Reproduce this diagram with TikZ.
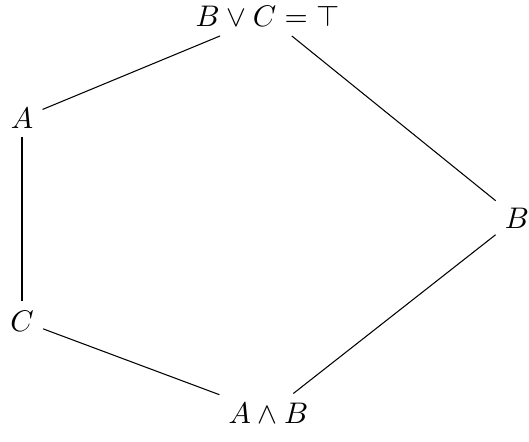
\documentclass[tikz,border=0pt]{standalone}
\usepackage{fix-cm}
\usepackage{xcolor}
\usepackage{tikz}
\usepackage{amsmath}

\begin{document}
\begin{tikzpicture}[x=1cm,y=1cm,every node/.style={font=\fontsize{11.3}{13.6}\selectfont}]
  \useasboundingbox (0,0) rectangle (7.046,5.887);
  \node (top) at (3.563,5.670) {$B \vee C = \top$};
  \node (a) at (0.293,4.316) {$A$};
  \node (c) at (0.293,1.612) {$C$};
  \node (bot) at (3.576,0.386) {$A \wedge B$};
  \node (b) at (6.886,2.984) {$B$};
  \draw (top) -- (a);
  \draw (top) -- (b);
  \draw (a) -- (c);
  \draw (c) -- (bot);
  \draw (b) -- (bot);
\end{tikzpicture}
\end{document}
